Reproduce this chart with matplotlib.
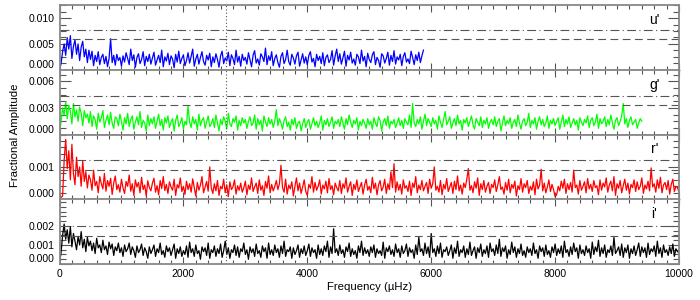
import numpy as np
import matplotlib.pyplot as plt
from matplotlib.ticker import MultipleLocator

plt.rcParams['font.family'] = ['Liberation Sans', 'DejaVu Sans']

step = 25

# u' amplitudes, units of 1e-4, 0 .. 5875 µHz
amp_u = [0, 12, 35, 50, 28, 62, 40, 66, 22, 45, 58, 30, 50, 18, 44, 55, 25, 40, 14, 38,
         20, 36, 8, 28, 16, 35, 10, 24, 30, 12, 26, 6, 22, 60, 14, 28, 9, 30, 18, 24,
         7, 27, 15, 33, 22, 10, 40, 18, 29, 5, 24, 31, 12, 20, 35, 8, 26, 16, 30, 11,
         23, 34, 9, 19, 28, 14, 38, 6, 25, 17, 32, 10, 27, 21, 4, 30, 15, 36, 12, 22,
         29, 8, 18, 33, 13, 26, 40, 7, 21, 30, 11, 24, 35, 16, 9, 28, 19, 32, 6, 25,
         14, 31, 20, 5, 27, 36, 12, 23, 17, 34, 8, 29, 22, 10, 38, 15, 26, 7, 30, 18,
         24, 11, 33, 19, 6, 28, 37, 13, 21, 9, 31, 25, 16, 42, 10, 27, 18, 35, 8, 22,
         29, 14, 5, 26, 33, 12, 20, 38, 16, 9, 30, 23, 11, 27, 34, 7, 19, 31, 13, 25,
         10, 28, 35, 15, 22, 6, 30, 18, 26, 12, 33, 8, 24, 29, 14, 20, 37, 9, 27, 40,
         16, 31, 11, 23, 36, 7, 28, 19, 34, 13, 21, 9, 30, 25, 12, 38, 17, 26, 6, 32,
         20, 14, 29, 35, 10, 24, 18, 5, 31, 27, 13, 22, 34, 9, 28, 16, 37, 11, 25, 19,
         30, 8, 26, 33, 15, 21, 12, 36, 24, 10, 29, 18, 34, 14, 27, 38]

# g' amplitudes, units of 1e-4, 0 .. 9400 µHz
amp_g = [1, 14, 30, 22, 37, 18, 33, 26, 12, 35, 20, 28, 15, 31, 24, 10, 27, 19, 23, 13,
         26, 9, 21, 17, 6, 24, 14, 19, 27, 8, 16, 22, 11, 25, 13, 7, 20, 18, 10, 23,
         15, 5, 19, 12, 24, 9, 17, 21, 6, 14, 20, 11, 26, 8, 16, 13, 4, 22, 10, 18,
         12, 20, 7, 15, 23, 10, 17, 5, 19, 13, 21, 8, 14, 18, 4, 16, 22, 9, 13, 19,
         6, 15, 11, 32, 14, 8, 20, 12, 17, 5, 23, 10, 16, 19, 7, 14, 21, 9, 12, 18,
         8, 22, 13, 4, 17, 11, 20, 15, 6, 24, 12, 9, 18, 14, 21, 5, 16, 10, 19, 13,
         17, 7, 15, 20, 10, 13, 22, 6, 18, 11, 16, 4, 21, 14, 9, 19, 12, 17, 8, 15,
         28, 10, 18, 13, 6, 16, 20, 9, 14, 5, 17, 11, 19, 7, 13, 15, 4, 12, 18, 8,
         14, 17, 6, 12, 19, 10, 15, 8, 13, 21, 5, 16, 11, 18, 9, 14, 20, 7, 15, 12,
         17, 9, 20, 13, 6, 18, 11, 22, 14, 8, 16, 12, 19, 5, 15, 10, 17, 13, 7, 18,
         11, 15, 6, 19, 13, 9, 20, 16, 4, 14, 18, 10, 21, 7, 15, 12, 17, 8, 13, 19,
         10, 16, 7, 18, 14, 11, 22, 8, 35, 13, 9, 17, 12, 20, 6, 15, 23, 10, 18, 14,
         9, 19, 12, 16, 6, 21, 14, 8, 17, 26, 11, 15, 20, 7, 13, 18, 10, 22, 12, 16,
         5, 17, 13, 19, 9, 15, 21, 11, 6, 18, 14, 10, 20, 8, 16, 12, 19, 7, 14, 17,
         11, 20, 9, 15, 18, 4, 13, 21, 10, 16, 12, 19, 7, 14, 17, 9, 22, 13, 6, 15,
         18, 10, 14, 24, 8, 16, 12, 19, 6, 15, 20, 11, 17, 9, 13, 21, 7, 16, 12, 18,
         10, 15, 19, 6, 14, 22, 9, 17, 12, 20, 8, 13, 18, 11, 16, 5, 19, 14, 10, 17,
         13, 21, 8, 16, 19, 10, 14, 23, 7, 18, 12, 15, 20, 9, 17, 11, 22, 13, 6, 16,
         19, 10, 15, 21, 35, 12, 18, 8, 16, 20, 11, 14, 17, 7, 13, 18, 15]

# r' amplitudes, units of 1e-5, 0 .. 10000 µHz
amp_r = [2, 6, 10, 120, 185, 95, 150, 60, 170, 80, 45, 130, 70, 100, 40, 118, 55, 85, 35, 75,
         60, 28, 90, 42, 55, 20, 70, 48, 32, 80, 25, 58, 40, 65, 15, 50, 72, 30, 45, 22,
         62, 35, 18, 55, 40, 75, 25, 48, 12, 60, 38, 52, 20, 68, 30, 44, 10, 57, 36, 26,
         50, 65, 22, 42, 14, 58, 33, 70, 27, 46, 18, 54, 38, 28, 62, 12, 45, 35, 66, 24,
         40, 15, 56, 30, 48, 22, 63, 36, 10, 52, 28, 44, 70, 20, 38, 55, 25, 100, 35, 18,
         48, 26, 58, 12, 40, 32, 62, 20, 45, 8, 54, 30, 38, 60, 16, 42, 28, 50, 22, 35,
         56, 14, 44, 30, 66, 24, 38, 50, 18, 60, 28, 42, 12, 55, 34, 72, 20, 46, 26, 40,
         58, 30, 48, 105, 36, 22, 62, 16, 44, 32, 54, 10, 40, 66, 26, 50, 18, 38, 60, 24,
         12, 46, 34, 70, 22, 52, 28, 40, 60, 16, 44, 32, 56, 20, 64, 30, 42, 14, 50, 36,
         26, 58, 18, 48, 34, 66, 22, 40, 54, 12, 46, 30, 60, 24, 38, 52, 16, 44, 62, 28,
         40, 20, 68, 32, 50, 14, 44, 58, 26, 38, 62, 18, 48, 30, 85, 36, 110, 22, 54, 28,
         46, 16, 60, 34, 42, 24, 56, 12, 50, 36, 70, 20, 44, 30, 58, 26, 40, 52, 18, 62,
         34, 48, 100, 28, 40, 22, 58, 14, 46, 32, 64, 24, 38, 52, 18, 56, 30, 72, 26, 44,
         16, 50, 36, 62, 95, 28, 42, 20, 54, 34, 66, 12, 48, 30, 58, 22, 40, 52, 18, 46,
         36, 60, 24, 44, 70, 30, 38, 16, 52, 28, 62, 20, 46, 34, 56, 10, 42, 30, 64, 22,
         48, 36, 58, 18, 40, 28, 54, 14, 62, 32, 44, 93, 26, 50, 20, 38, 60, 24, 46, 30,
         8, 14, 40, 26, 56, 34, 62, 18, 48, 30, 52, 22, 90, 36, 44, 16, 58, 28, 40, 54,
         20, 64, 32, 46, 24, 58, 36, 42, 14, 60, 28, 50, 38, 66, 22, 44, 56, 26, 70, 12,
         48, 34, 58, 20, 42, 62, 28, 50, 16, 46, 36, 60, 24, 54, 30, 40, 66, 18, 44, 32,
         56, 26, 97, 38, 48, 22, 60, 34, 68, 20, 44, 52, 30, 58, 16, 46, 62, 24, 40, 36,
         22]

# i' amplitudes, units of 1e-5, 0 .. 10000 µHz
amp_i = [5, 60, 150, 210, 130, 180, 110, 195, 90, 160, 120, 75, 145, 100, 170, 85, 130, 65, 140, 95,
         120, 70, 110, 55, 135, 85, 100, 60, 125, 75, 95, 50, 115, 80, 105, 45, 90, 70, 110, 60,
         85, 40, 100, 65, 80, 110, 50, 90, 70, 35, 95, 60, 75, 105, 45, 85, 65, 30, 90, 55,
         75, 100, 40, 80, 60, 110, 50, 70, 35, 95, 65, 85, 45, 75, 105, 30, 80, 55, 90, 40,
         70, 50, 95, 35, 115, 60, 80, 40, 100, 55, 70, 25, 90, 65, 85, 45, 110, 30, 75, 60,
         95, 40, 80, 55, 105, 35, 70, 120, 50, 85, 30, 75, 60, 100, 45, 90, 35, 80, 65, 110,
         50, 75, 25, 90, 60, 80, 40, 105, 55, 70, 35, 95, 65, 85, 30, 110, 50, 75, 45, 100,
         60, 80, 35, 95, 55, 120, 40, 75, 65, 90, 30, 85, 50, 70, 100, 35, 80, 55, 95, 45,
         70, 105, 40, 85, 60, 75, 30, 100, 50, 80, 45, 95, 65, 120, 35, 90, 55, 185, 60, 80,
         45, 100, 55, 75, 35, 90, 65, 110, 40, 80, 50, 70, 30, 95, 60, 120, 45, 85, 55, 75,
         40, 90, 60, 100, 35, 80, 55, 70, 45, 115, 30, 85, 65, 95, 50, 75, 40, 105, 60, 80,
         35, 95, 55, 70, 105, 40, 85, 60, 75, 30, 100, 50, 140, 65, 80, 45, 110, 55, 90, 35,
         160, 60, 80, 40, 95, 55, 110, 35, 75, 65, 90, 45, 70, 100, 30, 85, 55, 120, 40, 75,
         60, 95, 35, 80, 50, 115, 45, 70, 90, 30, 85, 60, 105, 40, 75, 55, 95, 35, 110, 65,
         80, 45, 100, 55, 130, 40, 85, 65, 95, 30, 75, 50, 115, 60, 90, 35, 80, 55, 105, 45,
         70, 35, 90, 60, 80, 45, 110, 55, 75, 30, 95, 65, 85, 40, 100, 50, 70, 35, 90, 60,
         105, 45, 80, 55, 95, 35, 120, 60, 75, 40, 90, 50, 110, 65, 85, 30, 100, 55, 75, 45,
         95, 60, 80, 30, 115, 50, 90, 65, 125, 40, 85, 55, 100, 35, 75, 60, 95, 45, 140, 55,
         70, 90, 45, 105, 35, 85, 60, 100, 30, 80, 55, 95, 45, 75, 110, 40, 90, 60, 85, 35,
         110, 50, 80, 65, 95, 40, 120, 55, 85, 35, 100, 60, 75, 45, 90, 55, 105, 40, 80, 65,
         60]

bands = ["u'", "g'", "r'", "i'"]
colours = ["#0000ff", "#00ff00", "#ff0000", "#000000"]
amps = [np.array(amp_u) * 1e-4, np.array(amp_g) * 1e-4,
        np.array(amp_r) * 1e-5, np.array(amp_i) * 1e-5]

# significance levels (dashed, dash-dot) per band
lev_lo = [0.0059, 0.0033, 0.00091, 0.00148]
lev_hi = [0.0077, 0.00434, 0.00122, 0.0020]

ylims = [(0, 0.0125), (0, 0.0073), (0, 0.0020), (0, 0.0034)]
yticks = [[0, 0.005, 0.010], [0, 0.003, 0.006], [0, 0.001], [0, 0.001, 0.002]]
yminor = [0.00125, 0.00075, 0.0002, 0.00025]
f_mark = 2690

fig, axes = plt.subplots(4, 1, sharex=True, figsize=(7, 3), dpi=100)
fig.subplots_adjust(left=0.085, right=0.97, top=0.983, bottom=0.12, hspace=0)

for k, ax in enumerate(axes):
    freq = np.arange(len(amps[k])) * step
    ax.plot(freq, amps[k], color=colours[k], lw=0.9)
    ax.axhline(lev_lo[k], color="#555555", lw=0.8, ls=(0, (7, 4)))
    ax.axhline(lev_hi[k], color="#555555", lw=0.8, ls=(0, (8, 3, 1, 3)))
    ax.axvline(f_mark, color="#555555", lw=0.8, ls=(0, (1, 2)))
    ax.set_xlim(0, 10000)
    ax.set_ylim(*ylims[k])
    ax.set_yticks(yticks[k])
    ax.yaxis.set_minor_locator(MultipleLocator(yminor[k]))
    ax.xaxis.set_major_locator(MultipleLocator(2000))
    ax.xaxis.set_minor_locator(MultipleLocator(200))
    ax.yaxis.set_major_formatter(plt.FormatStrFormatter("%.3f"))
    ax.tick_params(axis="both", which="both", direction="in", top=True,
                   right=True, colors="#555555", labelcolor="black",
                   labelsize=7.5, width=0.8)
    ax.tick_params(axis="y", which="major", length=8)
    ax.tick_params(axis="y", which="minor", length=4)
    ax.tick_params(axis="x", which="major", length=5)
    ax.tick_params(axis="x", which="minor", length=3)
    for s in ax.spines.values():
        s.set_color("#888888")
        s.set_linewidth(1.3)
    if k in (0, 2):
        ax.spines["bottom"].set_color("black")
        ax.spines["bottom"].set_linewidth(1.0)
    ax.text(0.96, 0.77, bands[k], transform=ax.transAxes, ha="center",
            va="center", fontsize=10)
    # keep the zero label inside its own panel
    for lab in ax.get_yticklabels():
        if lab.get_position()[1] == 0:
            lab.set_va("bottom")

axes[-1].set_xlabel("Frequency (\u00b5Hz)", fontsize=8.2, labelpad=2)
fig.text(0.022, 0.55, "Fractional Amplitude", rotation=90, ha="center",
         va="center", fontsize=8.2)

fig.savefig("out.png", dpi=100)
